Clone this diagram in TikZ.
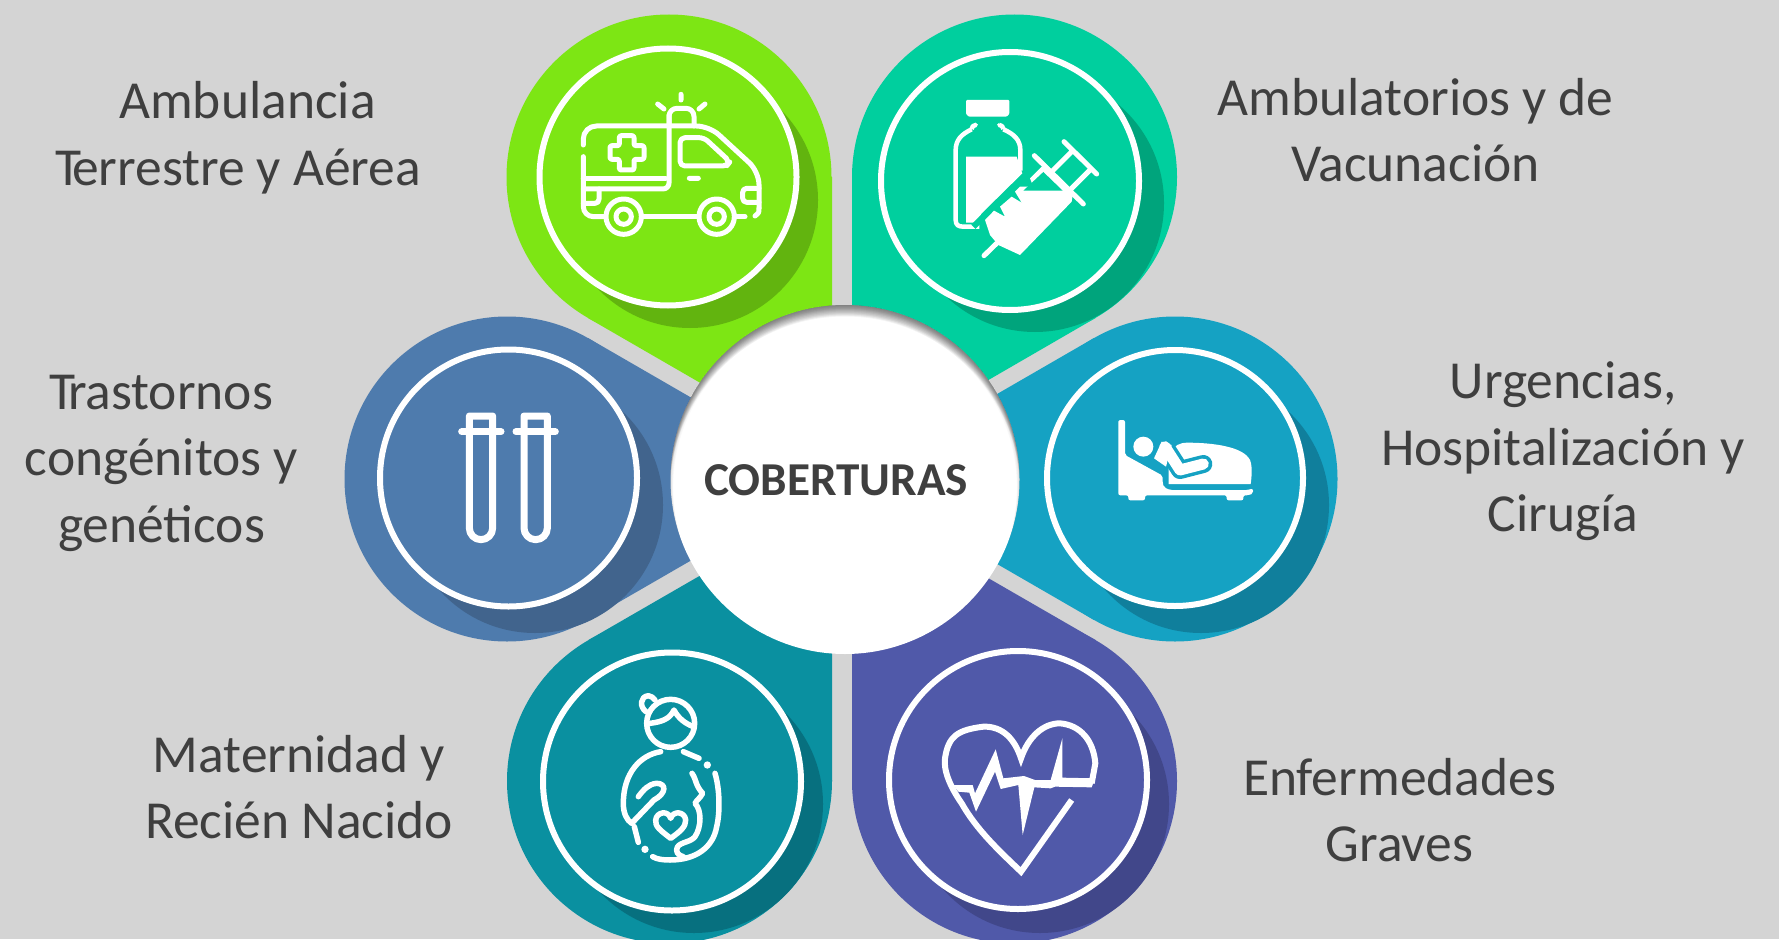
\documentclass[tikz,border=0pt]{standalone}
\usepackage{fontspec}
\setmainfont{Carlito}
\definecolor{cbg}{HTML}{D4D4D4}
\definecolor{cgreen}{HTML}{7DE614}
\definecolor{cgreend}{HTML}{62B40F}
\definecolor{cteal}{HTML}{00CF9E}
\definecolor{ctealD}{HTML}{00A47C}
\definecolor{cblue}{HTML}{4E7BAD}
\definecolor{cblued}{HTML}{41648D}
\definecolor{ccyan}{HTML}{15A2C3}
\definecolor{ccyand}{HTML}{107F9C}
\definecolor{csea}{HTML}{0A90A0}
\definecolor{csead}{HTML}{07707F}
\definecolor{cpurp}{HTML}{5059A9}
\definecolor{cpurpd}{HTML}{41478A}
\definecolor{ctxt}{HTML}{3F3F3F}
\tikzset{
  ring/.style={draw=white,line width=6pt},
  ic/.style={draw=white,line width=5pt,line cap=round,line join=round},
  lab/.style={text=ctxt,align=center,inner sep=0pt,font=\fontsize{53.5}{66.5}\selectfont},
}
\newcommand{\petal}[9]{%
  \fill[#1] (#2,#3) circle[radius=162.5];
  \fill[#1] (#2,#3) -- (#4,#5) -- (#6,#7) -- (#8,#9) -- cycle;
}
\newcommand{\zoomscope}[2]{\begin{scope}[shift={(#1,#2)},x=0.33333pt,y=-0.33333pt]}
\begin{document}
\begin{tikzpicture}[x=1pt,y=-1pt]
\useasboundingbox (0,0) rectangle (1779,939);
\fill[cbg] (0,0) rectangle (1779,939);
% petals
\petal{cgreen}{669}{177}{832}{177}{832}{459}{588}{318}
\petal{cteal}{1014.5}{177}{852}{177}{852}{459}{1095.5}{318}
\petal{cblue}{507}{479}{588}{338}{832}{479}{588}{620}
\petal{ccyan}{1175}{479}{1094}{338}{850}{479}{1094}{620}
\petal{csea}{669.5}{781}{832}{781}{832}{499.5}{588.5}{640}
\petal{cpurp}{1014.5}{781}{852}{781}{852}{499.5}{1095.5}{640}
% shadows and rings
\fill[cgreend] (690,200) circle[radius=128];
\filldraw[ring,fill=cgreen] (668,177) circle[radius=128.5];
\fill[ctealD] (1035,203) circle[radius=129];
\filldraw[ring,fill=cteal] (1010,181) circle[radius=129];
\fill[cblued] (535,505) circle[radius=128];
\filldraw[ring,fill=cblue] (508.5,478) circle[radius=128.5];
\fill[ccyand] (1201,505) circle[radius=128];
\filldraw[ring,fill=ccyan] (1175,478) circle[radius=128];
\fill[csead] (694,804) circle[radius=129];
\filldraw[ring,fill=csea] (672,781.5) circle[radius=129];
\fill[cpurpd] (1040,804) circle[radius=129];
\filldraw[ring,fill=cpurp] (1018,780) circle[radius=129];
% hub
\fill[white] (845,479.5) circle[radius=174.5];
\begin{scope}
  \clip (845,479.5) circle[radius=174.5];
  \foreach \k in {1,...,12}{
    \fill[black,opacity=0.04,even odd rule] (660,290) rectangle (1030,670) (845,479.5+\k) circle[radius=175];
  }
  \foreach \k in {1,...,8}{
    \fill[black,opacity=0.018,even odd rule] (660,290) rectangle (1030,670) (845,479.5+\k) circle[radius=175-0.4*\k];
  }
\end{scope}
% ambulance
\zoomscope{500}{0}
\draw[ic,rounded corners=13pt] (250,435)--(250,378)--(628,378)--(777,515)--(777,625);
\draw[ic] (777,625)..controls (777,638)..(765,648);
\draw[ic,rounded corners=10pt] (250,470)--(250,650)--(315,650);
\draw[ic] (430,650)--(590,650) (710,650)--(735,650) (250,535)--(497,535);
\draw[ic,rounded corners=6pt] (507,345)--(507,567)--(250,567);
\draw[ic,rounded corners=4pt] (250,610)--(297,610)--(297,567);
\draw[ic,rounded corners=8pt] (507,378)--(507,325)--(582,325)--(582,378);
\draw[ic] (543,283)--(543,300) (473,312)--(492,327) (615,312)--(597,327) (568,535)--(595,535);
\draw[ic,rounded corners=2pt] (358,407)--(402,407)--(402,437)--(432,437)--(432,478)--(402,478)--(402,510)--(358,510)--(358,478)--(330,478)--(330,437)--(358,437)--cycle;
\draw[ic,rounded corners=5pt] (540,413)--(612,413)--(690,485)--(680,498)--(540,498)--cycle;
\draw[ic,rounded corners=4pt] (777,565)--(728,565)--(728,607)--(777,607);
\draw[ic] (371,650) circle[radius=53] (371,650) circle[radius=23] (650,650) circle[radius=53] (650,650) circle[radius=23];
\end{scope}
% vial and syringe
\zoomscope{840}{0}
\fill[white,rounded corners=1pt] (378,300)--(508,300)--(508,342)--(500,350)--(386,350)--(378,342)--cycle;
\draw[ic,line width=4.5pt,line cap=butt,rounded corners=4pt] (405,375)--(395,375)--(395,388);
\draw[ic,line width=4.5pt,line cap=butt,rounded corners=4pt] (478,375)--(490,375)--(490,388);
\draw[ic,line width=4.5pt,line cap=butt] (395,388)..controls (365,402) and (347,420)..(347,450)--(347,660)..controls (347,675) and (355,680)..(370,680)--(418,680);
\draw[ic,line width=4.5pt,line cap=butt] (490,388)..controls (522,402) and (541,420)..(541,450)--(541,512);
\fill[white] (378,470)--(530,470)--(547,520)--(425,640)--(412,660)--(410,668)--(378,668)--cycle;
\draw[cteal,line width=6pt] (400,680)--(590,495);
\fill[white] (435,660)--(462,632)--(495,650)--(480,620)--(515,590)--(545,608)--(525,575)--(540,560)--(580,560)--(570,535)--(615,490)--(700,575)--(695,605)--(540,765)--(475,735)--(450,705)--cycle;
\fill[cteal] (550,572)--(610,516)--(668,572)--cycle;
\draw[ic,line width=5pt] (432,767)--(470,730);
\draw[ic,line width=5pt] (583,467)--(730,612) (672,425)--(770,522) (640,510)--(695,455) (695,565)--(750,510);
\end{scope}
% test tubes
\zoomscope{340}{310}
\draw[ic,line width=7pt] (388,365)--(388,318)--(458,318)--(458,654) arc[start angle=0,end angle=180,radius=35] --(388,365);
\draw[ic,line width=7pt] (552,365)--(552,318)--(622,318)--(622,654) arc[start angle=0,end angle=180,radius=35] --(552,365);
\draw[ic,line width=7pt] (365,365)--(483,365) (528,365)--(646,365);
\end{scope}
% bed
\zoomscope{1000}{310}
\fill[white,rounded corners=2pt] (355,340)--(355,330)--(375,330)--(375,435)--(488,497)--(488,520)--(492,532)--(510,540)--(745,540)--(758,535)--(760,550)--(745,556)--(730,556)--(730,571)--(680,571)--(680,556)--(435,556)--(435,571)--(385,571)--(385,556)--(355,556)--cycle;
\fill[white] (430,410) circle[radius=30];
\fill[white] (506,470)..controls (510,430) and (515,400)..(560,398)..controls (640,398) and (730,410)..(750,450)..controls (758,470) and (755,500)..(752,522)--(506,522)--cycle;
\draw[ccyan,line width=18pt,line cap=round,line join=round] (495,410)--(540,480)--(610,462);
\fill[white] (462,445)--(485,395)--(515,405)--(498,470)--cycle;
\draw[white,line width=11pt,line cap=round,line join=round] (495,410)--(540,480)--(610,462);
\end{scope}
% pregnant woman
\zoomscope{500}{630}
\begin{scope}
\tikzset{ic/.append style={line width=5.5pt}}
\draw[ic] (512,280) circle[radius=72];
\draw[ic] (438,245)..controls (418,230) and (420,200)..(445,197)..controls (455,197) and (460,205)..(465,210);
\draw[ic] (450,280)..controls (490,275) and (510,265)..(522,240)..controls (535,265) and (555,280)..(580,290);
\draw[ic] (482,365)..controls (420,375) and (370,430)..(370,520)..controls (370,550) and (380,570)..(395,580)--(462,510)..controls (500,490) and (500,460)..(470,460)..controls (445,462) and (430,480)..(415,500);
\draw[ic] (403,590)--(415,637);
\draw[ic] (550,365)--(597,385);
\draw[ic] (576,430)..controls (590,450) and (585,465)..(608,490)..controls (600,505) and (590,510)..(585,520)..controls (605,540) and (605,590)..(585,620)..controls (570,640) and (530,635)..(530,660)..controls (530,672) and (540,677)..(550,680);
\draw[ic] (645,430)..controls (660,480) and (660,550)..(650,590)..controls (640,650) and (590,690)..(510,690)..controls (490,690) and (470,688)..(458,680);
\fill[white] (622,405) circle[radius=11] (435,658) circle[radius=11];
\draw[ic] (512,625)..controls (480,600) and (465,590)..(467,570)..controls (470,545) and (505,540)..(512,565)..controls (520,540) and (555,545)..(557,570)..controls (558,590) and (540,605)..(512,625)--cycle;
\end{scope}
\end{scope}
% heart
\zoomscope{840}{630}
\draw[ic,line width=6pt,line cap=butt,line join=miter] (695,510)--(543,725)..controls (480,665) and (410,600)..(365,520)..controls (330,470) and (310,420)..(315,385)..controls (325,320) and (350,300)..(430,290)..controls (490,288) and (525,330)..(543,385)..controls (565,320) and (610,280)..(660,280)..controls (720,285) and (760,330)..(766,400)--(755,460);
\fill[white] (340,465)--(398,465)--(405,490)--(467,358)--(490,445)--(552,438)--(585,450)--(632,450)--(667,325)--(667,443)--(765,445)--(755,472)--(645,470)--(632,475)--(583,472)--(548,615)--(535,465)--(482,477)--(465,425)--(408,545)--(388,488)--(355,485)--cycle;
\end{scope}
% hub text
\node[text=ctxt,inner sep=0pt,font=\fontsize{47.2}{50}\selectfont\bfseries] (hublabel) at (836,480) {COBERTURAS};
% labels
\node[lab] (t1) at (238,137.5) {\hspace*{19pt}Ambulancia\\T\kern-9pt errestre y Aérea};
\node[lab] (t2) at (1415.5,130) {Ambulatorios y de\\Vacunación};
\node[lab] (t3) at (161.5,463) {T\kern-8pt rastornos\\congénitos y\\genéticos};
\node[lab] (t4) at (1563,451.5) {Urgencias,\\Hospitalización y\\Cirugía};
\node[lab] (t5) at (299,787) {Maternidad y\\Recién Nacido};
\node[lab] (t6) at (1399.5,810) {Enfermedades\\Graves};
\end{tikzpicture}
\end{document}
